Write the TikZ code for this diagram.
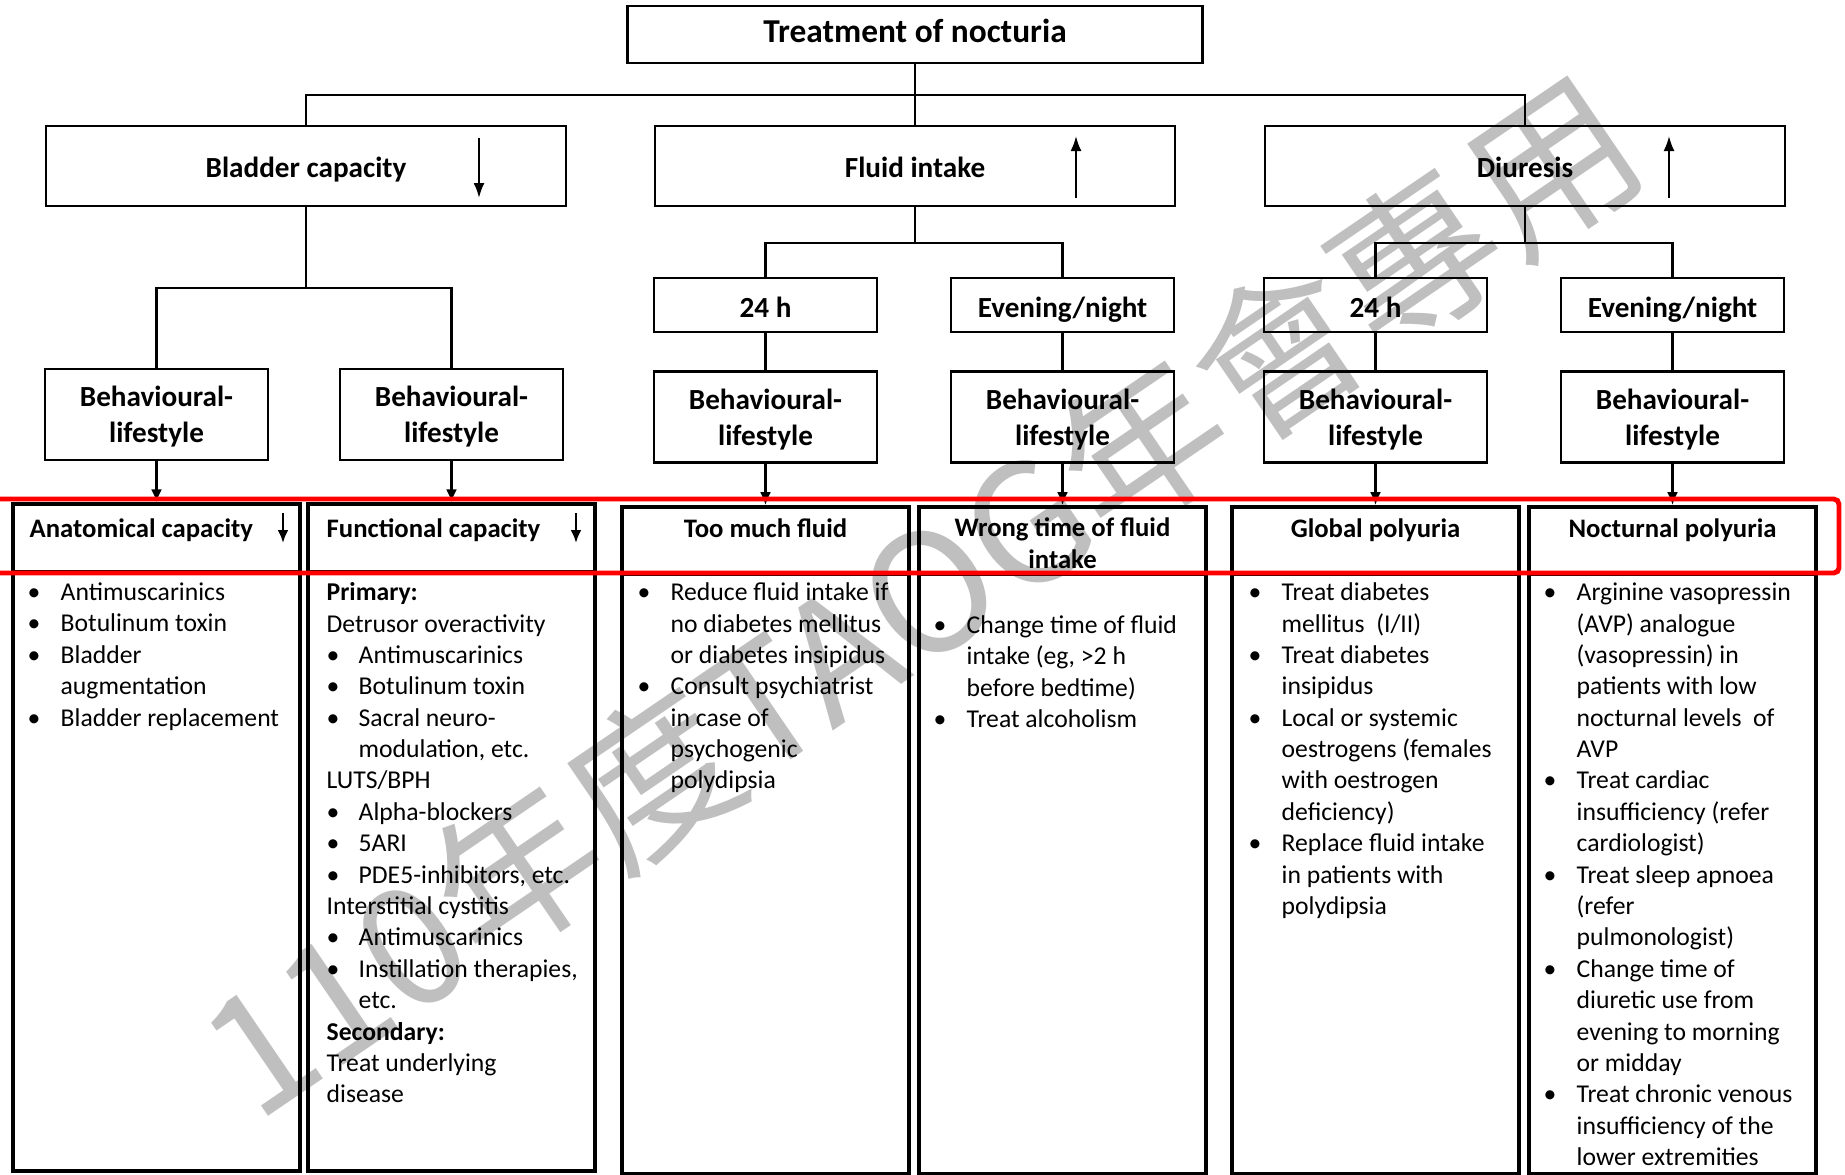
\documentclass[tikz,border=0pt]{standalone}
\usepackage{fontspec}
\setmainfont{Carlito}
\newfontfamily\cjkfont{Noto Sans CJK TC}
\usepackage{tikz}
\usetikzlibrary{arrows.meta, positioning}

\newcommand{\topstrut}{\rule{0pt}{6pt}}
\newcommand{\bitem}{\makebox[0.33cm][l]{\textbullet}}
\newcommand{\bcont}{\hspace*{0.33cm}}
\newcommand{\sbitem}{\makebox[0.32cm][l]{\textbullet}}
\newcommand{\sbcont}{\hspace*{0.32cm}}

\begin{document}
\begin{tikzpicture}[
    box/.style={draw, line width=0.8pt, inner sep=1pt},
    toptitle/.style={box, minimum width=5.75cm, minimum height=0.57cm, text height=0.16cm, text depth=0pt, font=\fontsize{9.5}{11}\selectfont\bfseries},
    branch/.style={box, minimum width=5.2cm, minimum height=0.8cm, text height=0.22cm, text depth=0pt, font=\fontsize{8.3}{10}\selectfont\bfseries},
    period/.style={box, minimum width=2.23cm, minimum height=0.54cm, text height=0.24cm, text depth=0pt, font=\fontsize{8.3}{10}\selectfont\bfseries},
    life/.style={box, minimum width=2.23cm, minimum height=0.91cm, align=center, text depth=0pt, font=\fontsize{8.3}{10.3}\selectfont\bfseries},
    column/.style={draw, line width=1pt, minimum width=2.87cm, minimum height=6.67cm, inner sep=0pt},
    colhead/.style={anchor=base, align=center, inner sep=0pt, font=\fontsize{7.6}{9}\selectfont\bfseries},
    colbody/.style={anchor=north west, align=left, inner sep=0pt, font=\fontsize{7.3}{8.93}\selectfont},
    link/.style={line width=0.8pt},
    feed/.style={line width=0.8pt, -{Latex[length=1.3mm, width=1.1mm]}},
    trend/.style={line width=0.6pt, -{Latex[length=1.5mm, width=1.1mm]}},
    headtrend/.style={line width=0.8pt, -{Latex[length=1.3mm, width=1.1mm]}},
    wmark/.style={rotate=34.3, text=black!25, font=\cjkfont\fontsize{47}{47}\selectfont}
]
\useasboundingbox (0,0) rectangle (18.45,-11.74);

% watermark (behind everything)
\node[wmark] (wm) at (9.2,-5.96) {110年度TAOG年會專用};

% Title
\node[toptitle] (title) at (9.15,-0.345) {Treatment of nocturia};
\coordinate (j0) at (9.15,-0.95);

% Main branches
\node[branch] (bladder) at (3.06,-1.66) {Bladder capacity};
\node[branch] (fluid) at (9.15,-1.66) {Fluid intake};
\node[branch] (diuresis) at (15.25,-1.66) {Diuresis};
\draw[link] (title) -- (j0);
\draw[link] (bladder) |- (j0) -| (diuresis);
\draw[link] (j0) -- (fluid);
\draw[trend] ([xshift=1.73cm, yshift=0.28cm]bladder.center) -- ++(0,-0.6);
\draw[trend] ([xshift=1.61cm, yshift=-0.32cm]fluid.center) -- ++(0,0.62);
\draw[trend] ([xshift=1.44cm, yshift=-0.32cm]diuresis.center) -- ++(0,0.62);

% Bladder capacity -> lifestyle
\coordinate (jb) at (3.06,-2.88);
\node[life] (lifeA) at (1.565,-4.145) {Behavioural-\\lifestyle};
\node[life] (lifeB) at (4.515,-4.145) {Behavioural-\\lifestyle};
\draw[link] (bladder) -- (jb);
\draw[link] (lifeA) |- (jb) -| (lifeB);

% Fluid intake -> 24 h / evening
\coordinate (jf) at (9.15,-2.43);
\node[period] (fday) at (7.655,-3.05) {24 h};
\node[period] (fnight) at (10.625,-3.05) {Evening/night};
\node[life, below=0.37cm of fday] (lifeC) {Behavioural-\\lifestyle};
\node[life, below=0.37cm of fnight] (lifeD) {Behavioural-\\lifestyle};
\draw[link] (fluid) -- (jf);
\draw[link] (fday) |- (jf) -| (fnight);
\draw[link] (fday) -- (lifeC);
\draw[link] (fnight) -- (lifeD);

% Diuresis -> 24 h / evening
\coordinate (jd) at (15.25,-2.43);
\node[period] (dday) at (13.755,-3.05) {24 h};
\node[period] (dnight) at (16.725,-3.05) {Evening/night};
\node[life, below=0.37cm of dday] (lifeE) {Behavioural-\\lifestyle};
\node[life, below=0.37cm of dnight] (lifeF) {Behavioural-\\lifestyle};
\draw[link] (diuresis) -- (jd);
\draw[link] (dday) |- (jd) -| (dnight);
\draw[link] (dday) -- (lifeE);
\draw[link] (dnight) -- (lifeF);

% Treatment columns
\node[column, below=0.41cm of lifeA] (colA) {};
\node[column, below=0.41cm of lifeB] (colB) {};
\node[column, below=0.41cm of lifeC] (colC) {};
\node[column, below=0.41cm of lifeD] (colD) {};
\node[column, below=0.41cm of lifeE] (colE) {};
\node[column, below=0.41cm of lifeF] (colF) {};
\draw[feed] (lifeA) -- (colA);
\draw[feed] (lifeB) -- (colB);
\draw[feed] (lifeC) -- (colC);
\draw[feed] (lifeD) -- (colD);
\draw[feed] (lifeE) -- (colE);
\draw[feed] (lifeF) -- (colF);
\draw[link] ([yshift=-0.69cm]colA.north west) -- ([yshift=-0.69cm]colA.north east);
\draw[link] ([yshift=-0.69cm]colB.north west) -- ([yshift=-0.69cm]colB.north east);
\draw[link] ([yshift=-0.69cm]colC.north west) -- ([yshift=-0.69cm]colC.north east);
\draw[link] ([yshift=-0.69cm]colD.north west) -- ([yshift=-0.69cm]colD.north east);
\draw[link] ([yshift=-0.69cm]colE.north west) -- ([yshift=-0.69cm]colE.north east);
\draw[link] ([yshift=-0.69cm]colF.north west) -- ([yshift=-0.69cm]colF.north east);

% Column headers
\node[colhead, anchor=base west] (headA) at (0.29,-5.37) {Anatomical capacity};
\draw[headtrend] (2.83,-5.13) -- (2.83,-5.43);
\node[colhead, anchor=base west] (headB) at (3.26,-5.37) {Functional capacity};
\draw[headtrend] (5.76,-5.13) -- (5.76,-5.43);
\node[colhead] (headC) at (7.655,-5.37) {Too much fluid};
% base of a two-line node is its last line
\node[colhead] (headD) at (10.625,-5.68) {Wrong time of fluid\\intake};
\node[colhead] (headE) at (13.755,-5.37) {Global polyuria};
\node[colhead] (headF) at (16.725,-5.37) {Nocturnal polyuria};

% Column bodies
\node[colbody] (bodyA) at (0.27,-5.788) {\topstrut\bitem Antimuscarinics\\
  \bitem Botulinum toxin\\
  \bitem Bladder\\
  \bcont augmentation\\
  \bitem Bladder replacement};
\node[colbody] (bodyB) at (3.26,-5.788) {\topstrut\textbf{Primary:}\\
  Detrusor overactivity\\
  \sbitem Antimuscarinics\\
  \sbitem Botulinum toxin\\
  \sbitem Sacral neuro-\\
  \sbcont modulation, etc.\\
  LUTS/BPH\\
  \sbitem Alpha-blockers\\
  \sbitem 5ARI\\
  \sbitem PDE5-inhibitors, etc.\\
  Interstitial cystitis\\
  \sbitem Antimuscarinics\\
  \sbitem Instillation therapies,\\
  \sbcont etc.\\
  \textbf{Secondary:}\\
  Treat underlying\\
  disease};
\node[colbody] (bodyC) at (6.37,-5.788) {\topstrut\bitem Reduce fluid intake if\\
  \bcont no diabetes mellitus\\
  \bcont or diabetes insipidus\\
  \bitem Consult psychiatrist\\
  \bcont in case of\\
  \bcont psychogenic\\
  \bcont polydipsia};
\node[colbody] (bodyD) at (9.33,-6.118) {\topstrut\bitem Change time of fluid\\
  \bcont intake (eg, >2 h\\
  \bcont before bedtime)\\
  \bitem Treat alcoholism};
\node[colbody] (bodyE) at (12.48,-5.788) {\topstrut\bitem Treat diabetes\\
  \bcont mellitus\ \ (I/II)\\
  \bitem Treat diabetes\\
  \bcont insipidus\\
  \bitem Local or systemic\\
  \bcont oestrogens (females\\
  \bcont with oestrogen\\
  \bcont deficiency)\\
  \bitem Replace fluid intake\\
  \bcont in patients with\\
  \bcont polydipsia};
\node[colbody] (bodyF) at (15.43,-5.788) {\topstrut\bitem Arginine vasopressin\\
  \bcont (AVP) analogue\\
  \bcont (vasopressin) in\\
  \bcont patients with low\\
  \bcont nocturnal levels\ \ of\\
  \bcont AVP\\
  \bitem Treat cardiac\\
  \bcont insufficiency (refer\\
  \bcont cardiologist)\\
  \bitem Treat sleep apnoea\\
  \bcont (refer\\
  \bcont pulmonologist)\\
  \bitem Change time of\\
  \bcont diuretic use from\\
  \bcont evening to morning\\
  \bcont or midday\\
  \bitem Treat chronic venous\\
  \bcont insufficiency of the\\
  \bcont lower extremities};

% highlight of the header row
\draw[red, line width=1.4pt, rounded corners=1.5pt] (-0.1,-4.99) rectangle (18.39,-5.73);

\end{tikzpicture}
\end{document}
